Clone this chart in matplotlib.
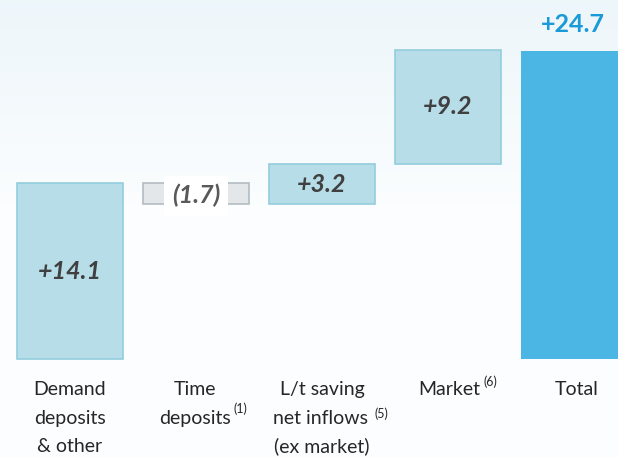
import numpy as np
import matplotlib.pyplot as plt

categories = [['Demand', 'deposits', '& other'],
              ['Time', 'deposits'],
              ['L/t saving', 'net inflows', '(ex market)'],
              ['Market'],
              ['Total']]
notes = ['', '(1)', '(5)', '(6)', '']
deltas = [14.1, -1.7, 3.2, 9.2]
total = 24.7
delta_labels = ['+14.1', '(1.7)', '+3.2', '+9.2']
total_label = '+24.7'

plt.rcParams['font.family'] = ['Lato', 'DejaVu Sans']

fig = plt.figure(figsize=(6.18, 4.57), dpi=100)

# soft background gradient
bg = fig.add_axes([0, 0, 1, 1])
grad = np.linspace(0, 1, 256).reshape(-1, 1)
top = np.array([0.93, 0.965, 0.98])
bot = np.array([0.985, 0.993, 0.998])
img = top + (bot - top) * np.clip(grad * 2.2, 0, 1)[:, :, None]
bg.imshow(img, aspect='auto', extent=[0, 1, 0, 1], origin='upper')
bg.axis('off')

ax = fig.add_axes([0, 0, 1, 1])
ax.patch.set_alpha(0)
ax.axis('off')
ax.set_xlim(-0.556, 4.349)
ax.set_ylim(-7.85, 28.77)

w = 0.841
ends = np.cumsum(deltas)
starts = ends - np.array(deltas)
for i, d in enumerate(deltas):
    lo = min(starts[i], ends[i])
    if d < 0:
        fc, ec = '#E3E7EA', '#B4BCC2'
    else:
        fc, ec = '#B7DDE8', '#93CDDD'
    ax.bar(i, abs(d), bottom=lo, width=w, color=fc, edgecolor=ec, linewidth=1.2)
    mid = lo + abs(d) / 2
    if d < 0:
        ax.text(i, mid - 0.15, delta_labels[i], ha='center', va='center', fontsize=18,
                fontweight='bold', style='italic', color='#595959',
                bbox=dict(facecolor='white', edgecolor='none', pad=6))
    else:
        ax.text(i, mid, delta_labels[i], ha='center', va='center', fontsize=18,
                fontweight='bold', style='italic', color='#404040')

ax.bar(4, total, width=w, color='#4BB6E3', edgecolor='none')
ax.text(3.99, total + 2.1, total_label, ha='center', va='center', fontsize=18,
        fontweight='bold', color='#1A9AD6')

# category labels, one line at a time
line_y = [-2.48, -4.73, -6.97]
x_shift = [0, -0.01, 0, 0.008, 0.02]
for i, lines in enumerate(categories):
    for j, s in enumerate(lines):
        xs = i + x_shift[i]
        if i == 2 and j == 1:
            xs = i - 0.015
        ax.text(xs, line_y[j], s, ha='center', va='center', fontsize=14,
                color='#262626')

ax.text(1.294, -4.0, notes[1], ha='left', va='center', fontsize=9, color='#262626')
ax.text(2.42, -4.35, notes[2], ha='left', va='center', fontsize=9, color='#262626')
ax.text(3.278, -1.8, notes[3], ha='left', va='center', fontsize=9, color='#262626')

fig.savefig('out.png', dpi=100)
